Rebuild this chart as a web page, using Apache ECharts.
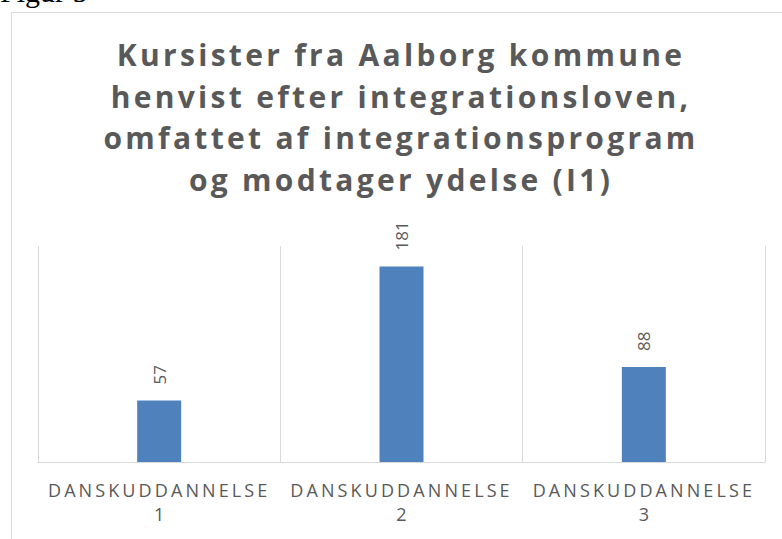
<!DOCTYPE html>
<html>
<head>
<meta charset="utf-8">
<script src="https://cdn.jsdelivr.net/npm/echarts@6/dist/echarts.min.js"></script>
<style>
  html, body { margin: 0; padding: 0; background: #fff; }
  #main { width: 782px; height: 539px; }
</style>
</head>
<body>
<div id="main"></div>
<script>
var categories = ["DANSKUDDANNELSE\n1", "DANSKUDDANNELSE\n2", "DANSKUDDANNELSE\n3"];
var values = [57, 181, 88];
var chartTitle = "Kursister fra Aalborg kommune\nhenvist efter integrationsloven,\nomfattet af integrationsprogram\nog modtager ydelse (I1)";
var figureCaption = "Figur 5";

var myChart = echarts.init(document.getElementById("main"), null, { renderer: "svg" });
var option = {
  animation: false,
  title: {
    text: chartTitle,
    left: 396,
    textAlign: "center",
    top: 29,
    textStyle: {
      fontFamily: "Open Sans",
      fontWeight: "bold",
      fontSize: 30,
      lineHeight: 41.5,
      color: "#595959"
    }
  },
  graphic: [
    {
      type: "rect",
      left: 9,
      top: 10,
      shape: { width: 800, height: 600 },
      style: { fill: "none", stroke: "#d9d9d9", lineWidth: 1 },
      silent: true
    },
    {
      type: "text",
      left: 0,
      top: -24,
      style: {
        text: figureCaption,
        font: "30px 'Liberation Serif'",
        fill: "#000"
      }
    }
  ],
  grid: { left: 38, right: 17, top: 246, bottom: 77 },
  xAxis: {
    type: "category",
    data: categories,
    axisLine: { lineStyle: { color: "#d9d9d9", width: 1 } },
    axisTick: { show: false },
    splitLine: { show: true, lineStyle: { color: "#d9d9d9", width: 1 } },
    axisLabel: {
      color: "#595959",
      fontFamily: "Open Sans",
      fontSize: 18,
      lineHeight: 24,
      margin: 16
    }
  },
  yAxis: {
    type: "value",
    min: 0,
    max: 200,
    show: false,
    splitLine: { show: false }
  },
  series: [
    {
      type: "bar",
      data: values,
      barWidth: 44,
      itemStyle: { color: "#4f81bd" },
      label: {
        show: true,
        position: "top",
        rotate: 90,
        align: "left",
        verticalAlign: "middle",
        distance: 16,
        color: "#595959",
        fontFamily: "Open Sans",
        fontSize: 17
      }
    }
  ]
};
myChart.setOption(option);

// letter spacing like the original Office chart (title and category labels)
function spaceLetters() {
  var texts = document.querySelectorAll("#main text");
  texts.forEach(function (t) {
    var s = t.textContent;
    if (s.length > 4 && s !== figureCaption) {
      t.style.letterSpacing = /^[A-Z]+$/.test(s) ? "3.1px" : "3.3px";
    }
  });
}
myChart.on("finished", spaceLetters);
spaceLetters();
</script>
</body>
</html>
